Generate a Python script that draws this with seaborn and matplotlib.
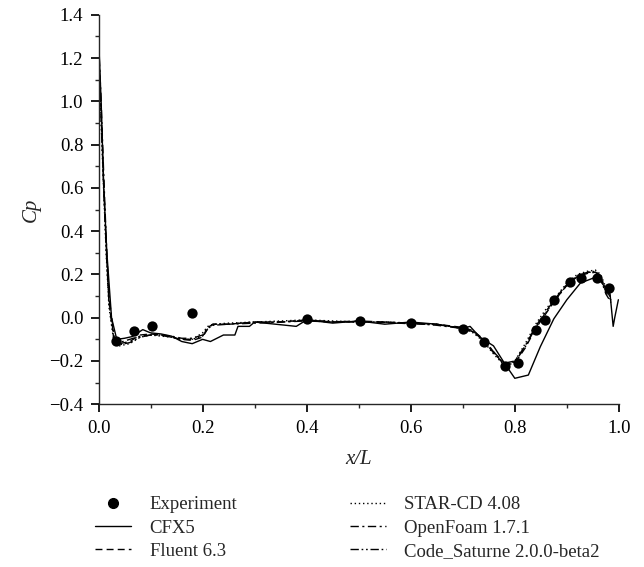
import matplotlib
matplotlib.use("Agg")
import matplotlib.pyplot as plt
import numpy as np
import pandas as pd
import seaborn as sns
from matplotlib.ticker import AutoMinorLocator, MultipleLocator

# Experiment
exp_x = [0.033, 0.068, 0.102, 0.18, 0.40, 0.502, 0.60, 0.70, 0.74, 0.782, 0.806,
         0.84, 0.858, 0.876, 0.906, 0.928, 0.957, 0.981]
exp_y = [-0.106, -0.063, -0.04, 0.02, -0.006, -0.014, -0.023, -0.051, -0.114, -0.225,
         -0.21, -0.055, -0.009, 0.083, 0.163, 0.185, 0.185, 0.138]

# CFX5
cfx_x = [0.0, 0.005, 0.01, 0.016, 0.025, 0.035, 0.05, 0.065, 0.085, 0.10,
         0.12, 0.14, 0.16, 0.18, 0.20, 0.215, 0.24, 0.262, 0.268, 0.29,
         0.30, 0.32, 0.36, 0.38, 0.40, 0.45, 0.50, 0.55, 0.60, 0.65,
         0.70, 0.714, 0.733, 0.759, 0.78, 0.80, 0.826, 0.849, 0.875, 0.90,
         0.926, 0.958, 0.983, 0.989, 0.992, 0.999]
cfx_y = [1.30, 1.0, 0.6, 0.3, 0.0, -0.10, -0.095, -0.087, -0.055, -0.07,
         -0.075, -0.085, -0.11, -0.12, -0.10, -0.11, -0.08, -0.08, -0.04, -0.04,
         -0.02, -0.025, -0.035, -0.04, -0.01, -0.025, -0.015, -0.03, -0.02, -0.03,
         -0.05, -0.04, -0.09, -0.13, -0.21, -0.28, -0.265, -0.134, -0.005, 0.083,
         0.16, 0.19, 0.11, -0.04, 0.0, 0.083]

# other solvers share the same stations
sim_x = [0.0, 0.005, 0.01, 0.015, 0.02, 0.03, 0.04, 0.06, 0.08, 0.10,
         0.12, 0.14, 0.16, 0.18, 0.20, 0.21, 0.22, 0.25, 0.30, 0.35,
         0.40, 0.45, 0.50, 0.55, 0.60, 0.65, 0.70, 0.72, 0.74, 0.76,
         0.78, 0.80, 0.82, 0.84, 0.86, 0.88, 0.90, 0.92, 0.94, 0.955,
         0.965, 0.975, 0.985]
fluent_y = [1.25, 0.95, 0.62, 0.32, 0.08, -0.10, -0.12, -0.11, -0.08, -0.075,
            -0.08, -0.09, -0.10, -0.105, -0.09, -0.05, -0.03, -0.03, -0.02, -0.02,
            -0.01, -0.02, -0.015, -0.02, -0.025, -0.03, -0.045, -0.06, -0.10, -0.16,
            -0.22, -0.21, -0.14, -0.05, 0.02, 0.09, 0.15, 0.19, 0.205, 0.21,
            0.19, 0.12, 0.08]
star_y = [1.20, 0.90, 0.58, 0.28, 0.05, -0.12, -0.13, -0.12, -0.09, -0.08,
          -0.085, -0.09, -0.10, -0.10, -0.07, -0.04, -0.03, -0.025, -0.02, -0.015,
          -0.01, -0.015, -0.02, -0.02, -0.025, -0.03, -0.05, -0.07, -0.11, -0.17,
          -0.22, -0.20, -0.12, -0.03, 0.04, 0.10, 0.16, 0.20, 0.215, 0.22,
          0.20, 0.14, 0.09]
openfoam_y = [1.28, 1.0, 0.66, 0.35, 0.10, -0.09, -0.115, -0.10, -0.085, -0.08,
              -0.08, -0.085, -0.095, -0.095, -0.08, -0.045, -0.03, -0.03, -0.025, -0.02,
              -0.015, -0.02, -0.02, -0.02, -0.025, -0.035, -0.05, -0.065, -0.10, -0.16,
              -0.21, -0.20, -0.13, -0.04, 0.03, 0.095, 0.155, 0.195, 0.21, 0.21,
              0.18, 0.11, 0.07]
saturne_y = [1.22, 0.92, 0.6, 0.3, 0.07, -0.11, -0.125, -0.115, -0.09, -0.08,
             -0.08, -0.09, -0.10, -0.10, -0.085, -0.05, -0.035, -0.03, -0.02, -0.02,
             -0.012, -0.018, -0.018, -0.022, -0.028, -0.032, -0.048, -0.065, -0.105, -0.165,
             -0.215, -0.205, -0.135, -0.045, 0.025, 0.09, 0.15, 0.19, 0.21, 0.215,
             0.19, 0.13, 0.09]

sns.set_theme(style="ticks")
plt.rcParams["font.family"] = ["Liberation Serif", "DejaVu Serif"]
plt.rcParams["axes.linewidth"] = 1.0
plt.rcParams["xtick.major.size"] = 6
plt.rcParams["ytick.major.size"] = 6
plt.rcParams["xtick.minor.size"] = 3
plt.rcParams["ytick.minor.size"] = 3
plt.rcParams["xtick.minor.visible"] = True
plt.rcParams["ytick.minor.visible"] = True

fig = plt.figure(figsize=(6.44, 5.67), dpi=100)
ax = fig.add_axes([0.153, 0.287, 0.808, 0.687])

series = [
    ("CFX5", cfx_x, cfx_y, "-"),
    ("Fluent 6.3", sim_x, fluent_y, (0, (5, 3))),
    ("STAR-CD 4.08", sim_x, star_y, (0, (1, 2))),
    ("OpenFoam 1.7.1", sim_x, openfoam_y, (0, (6, 2.5, 1.5, 2.5))),
    ("Code_Saturne 2.0.0-beta2", sim_x, saturne_y, (0, (6, 2, 1.2, 2, 1.2, 2))),
]

handles = []
sns.scatterplot(x=exp_x, y=exp_y, ax=ax, color="black", s=55,
                edgecolor="black", linewidth=0, zorder=5)
h_exp = plt.Line2D([], [], marker="o", ls="none", color="black", markersize=7)
handles.append((h_exp, "Experiment"))

for name, xs, ys, ls in series:
    df = pd.DataFrame({"x": xs, "y": ys})
    sns.lineplot(data=df, x="x", y="y", ax=ax, color="black", lw=1.0,
                 linestyle=ls, sort=False, estimator=None)
    handles.append((plt.Line2D([], [], color="black", lw=1.0, linestyle=ls), name))

ax.set_xlim(0.0, 1.0)
ax.set_ylim(-0.4, 1.4)
ax.xaxis.set_major_locator(MultipleLocator(0.2))
ax.yaxis.set_major_locator(MultipleLocator(0.2))
ax.xaxis.set_minor_locator(AutoMinorLocator(2))
ax.yaxis.set_minor_locator(AutoMinorLocator(2))
ax.tick_params(labelsize=13.5, colors="black", direction="out", pad=5)
ax.set_xticklabels([f"{v:.1f}" for v in ax.get_xticks()])
ax.set_yticklabels([f"{v:.1f}".replace("-", "\u2212") for v in ax.get_yticks()])
sns.despine(ax=ax)

ax.set_xlabel("x/L", fontsize=15, fontstyle="italic", labelpad=10)
ax.set_ylabel("Cp", fontsize=15, fontstyle="italic", labelpad=6)

fig.legend([h for h, _ in handles], [l for _, l in handles], ncol=2,
           loc="upper left", bbox_to_anchor=(0.148, 0.125), frameon=False,
           borderpad=0, borderaxespad=0, fontsize=13.5, handlelength=1.9,
           columnspacing=6.0, labelspacing=0.33, handletextpad=1.0)

fig.savefig("out.png", dpi=100)
